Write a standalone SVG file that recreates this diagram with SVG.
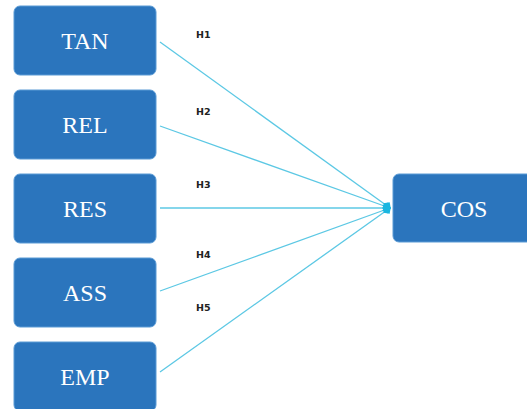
<svg xmlns="http://www.w3.org/2000/svg" width="527" height="409" viewBox="0 0 527 409">
<style>
.box{fill:#2b75bd;stroke:#5b9bd5;stroke-width:1}
.lbl{font-family:"Liberation Serif",serif;font-size:24px;fill:#ffffff;text-anchor:middle}
.h{font-family:"DejaVu Sans","Liberation Sans",sans-serif;font-size:9.5px;fill:#222;font-weight:bold}
.c{stroke:#5cc8e4;stroke-width:1.3;fill:none}
</style>
<defs>
<marker id="ah" viewBox="0 0 10 10" refX="9" refY="5" markerWidth="9" markerHeight="9" orient="auto" markerUnits="userSpaceOnUse">
<path d="M0,5 L5,0 L10,5 L5,10 Z" fill="#19b6e0"/>
</marker>
</defs>
<rect width="527" height="409" fill="#ffffff"/>
<g id="TAN"><rect class="box" x="14" y="6" width="142" height="69" rx="6"/><text class="lbl" x="85" y="49">TAN</text></g>
<g id="REL"><rect class="box" x="14" y="90" width="142" height="69" rx="6"/><text class="lbl" x="85" y="133">REL</text></g>
<g id="RES"><rect class="box" x="14" y="174" width="142" height="69" rx="6"/><text class="lbl" x="85" y="217">RES</text></g>
<g id="ASS"><rect class="box" x="14" y="258" width="142" height="69" rx="6"/><text class="lbl" x="85" y="301">ASS</text></g>
<g id="EMP"><rect class="box" x="14" y="342" width="142" height="69" rx="6"/><text class="lbl" x="85" y="385">EMP</text></g>
<g id="COS"><rect class="box" x="393" y="174" width="142" height="68" rx="6"/><text class="lbl" x="464" y="217">COS</text></g>
<g id="connectors">
<line class="c" x1="160" y1="42" x2="390" y2="208" marker-end="url(#ah)"/>
<line class="c" x1="160" y1="126" x2="390" y2="208" marker-end="url(#ah)"/>
<line class="c" x1="160" y1="208" x2="390" y2="208" marker-end="url(#ah)"/>
<line class="c" x1="160" y1="291" x2="390" y2="208" marker-end="url(#ah)"/>
<line class="c" x1="160" y1="372" x2="390" y2="208" marker-end="url(#ah)"/>
<text class="h" x="196" y="38">H1</text>
<text class="h" x="196" y="115">H2</text>
<text class="h" x="196" y="188">H3</text>
<text class="h" x="196" y="258">H4</text>
<text class="h" x="196" y="311">H5</text>
</g>
</svg>
